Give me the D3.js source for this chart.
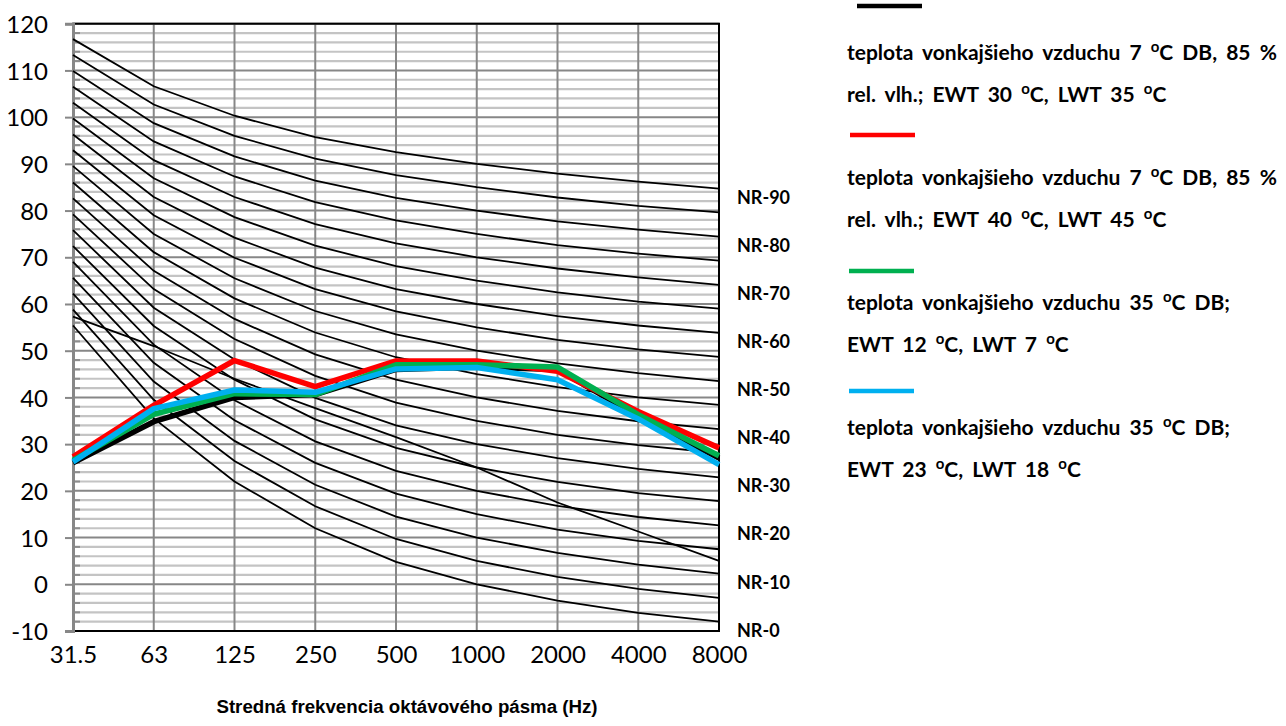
<!DOCTYPE html>
<html>
<head>
<meta charset="utf-8">
<script src="https://cdn.jsdelivr.net/npm/d3@7"></script>
<style>
  body { margin: 0; background: #fff; }
  .tick text { font-family: Lato, "Noto Sans", sans-serif; }
</style>
</head>
<body>
<div class="d3Area"></div>
<script>
// octave band centre frequencies
let bands = ["31.5", "63", "125", "250", "500", "1000", "2000", "4000", "8000"];

// NR curves, NR-0 ... NR-90 step 5
let nrLevels = [0, 5, 10, 15, 20, 25, 30, 35, 40, 45, 50, 55, 60, 65, 70, 75, 80, 85, 90];
let nrCurves = [
  [55.4, 35.5, 22.0, 12.0, 4.8, 0, -3.5, -6.1, -8.0],
  [58.8, 39.5, 26.4, 16.7, 9.7, 5, 1.6, -1.0, -2.9],
  [62.2, 43.4, 30.7, 21.3, 14.5, 10, 6.7, 4.2, 2.3],
  [65.6, 47.4, 35.1, 26.0, 19.4, 15, 11.7, 9.3, 7.5],
  [69.0, 51.3, 39.4, 30.6, 24.3, 20, 16.8, 14.4, 12.6],
  [72.4, 55.3, 43.8, 35.3, 29.2, 25, 21.9, 19.5, 17.8],
  [75.8, 59.2, 48.1, 39.9, 34.0, 30, 27.0, 24.7, 22.9],
  [79.2, 63.2, 52.5, 44.6, 38.9, 35, 32.0, 29.8, 28.1],
  [82.6, 67.1, 56.8, 49.2, 43.8, 40, 37.1, 34.9, 33.2],
  [86.0, 71.1, 61.2, 53.9, 48.6, 45, 42.2, 40.0, 38.4],
  [89.5, 75.0, 65.5, 58.5, 53.5, 50, 47.3, 45.2, 43.5],
  [92.9, 79.0, 69.9, 63.2, 58.4, 55, 52.3, 50.3, 48.7],
  [96.3, 82.9, 74.2, 67.8, 63.2, 60, 57.4, 55.4, 53.8],
  [99.7, 86.9, 78.6, 72.5, 68.1, 65, 62.5, 60.5, 59.0],
  [103.1, 90.8, 82.9, 77.1, 73.0, 70, 67.6, 65.7, 64.1],
  [106.5, 94.8, 87.3, 81.8, 77.9, 75, 72.6, 70.8, 69.3],
  [109.9, 98.7, 91.6, 86.4, 82.7, 80, 77.7, 75.9, 74.4],
  [113.3, 102.7, 96.0, 91.1, 87.6, 85, 82.8, 81.0, 79.6],
  [116.7, 106.6, 100.3, 95.7, 92.5, 90, 87.9, 86.2, 84.7]
];
// extra thin black line that crosses the NR curves
let crossLine = [57.3, 51.0, 44.0, 37.7, 31.5, 25.0, 17.5, 11.3, 5.0];

// which NR curves get a label on the right
let nrLabelLevels = [90, 80, 70, 60, 50, 40, 30, 20, 10, 0];

// measured unit spectra (dB)
let seriesBlack = [26.0, 34.8, 40.0, 40.6, 46.0, 46.5, 46.0, 36.0, 27.0];
let seriesRed = [27.3, 38.3, 47.9, 42.3, 47.8, 47.8, 45.6, 37.0, 29.2];
let seriesGreen = [26.5, 36.4, 40.8, 40.6, 47.0, 47.0, 46.5, 36.3, 27.5];
let seriesBlue = [26.2, 37.6, 41.6, 41.1, 46.1, 46.4, 43.8, 35.4, 25.6];

let seriesColors = ["#000000", "#ff0000", "#00b050", "#00b0f0"];
let seriesNames = [
  ["teplota vonkajšieho vzduchu 7 ^oC DB, 85 %", "rel. vlh.; EWT 30 ^oC, LWT 35 ^oC"],
  ["teplota vonkajšieho vzduchu 7 ^oC DB, 85 %", "rel. vlh.; EWT 40 ^oC, LWT 45 ^oC"],
  ["teplota vonkajšieho vzduchu 35 ^oC DB;", "EWT 12 ^oC, LWT 7 ^oC"],
  ["teplota vonkajšieho vzduchu 35 ^oC DB;", "EWT 23 ^oC, LWT 18 ^oC"]
];

let yTicks = d3.range(-10, 121, 10);
let yMinorTicks = d3.range(-10, 121, 2);

let outerWidth = 1286,
  outerHeight = 726;

let plot = { left: 73, right: 719, top: 23.7, bottom: 631 };

let svg = d3
  .select(".d3Area")
  .append("svg")
  .attr("width", outerWidth)
  .attr("height", outerHeight);

let x = d3.scalePoint().domain(bands).range([plot.left, plot.right]);
let y = d3.scaleLinear().domain([-10, 120]).range([plot.bottom, plot.top]);

// minor grid
svg
  .append("g")
  .selectAll("line")
  .data(yMinorTicks.filter((v) => v % 10 !== 0))
  .enter()
  .append("line")
  .attr("x1", plot.left)
  .attr("x2", plot.right)
  .attr("y1", (d) => y(d))
  .attr("y2", (d) => y(d))
  .attr("stroke", "#c4c4c4")
  .attr("stroke-width", 2.2);

// minor ticks (inside the axis)
svg
  .append("g")
  .selectAll("line")
  .data(yMinorTicks.filter((v) => v % 10 !== 0))
  .enter()
  .append("line")
  .attr("x1", plot.left)
  .attr("x2", plot.left + 7)
  .attr("y1", (d) => y(d))
  .attr("y2", (d) => y(d))
  .attr("stroke", "#8c8c8c")
  .attr("stroke-width", 2);

// major grid
svg
  .append("g")
  .selectAll("line")
  .data(yTicks)
  .enter()
  .append("line")
  .attr("x1", plot.left)
  .attr("x2", plot.right)
  .attr("y1", (d) => y(d))
  .attr("y2", (d) => y(d))
  .attr("stroke", "#878787")
  .attr("stroke-width", 2);

// vertical grid
svg
  .append("g")
  .selectAll("line")
  .data(bands)
  .enter()
  .append("line")
  .attr("x1", (d) => x(d))
  .attr("x2", (d) => x(d))
  .attr("y1", plot.top)
  .attr("y2", plot.bottom)
  .attr("stroke", "#878787")
  .attr("stroke-width", 2);

// plot border (black)
svg
  .append("rect")
  .attr("x", plot.left)
  .attr("y", plot.top)
  .attr("width", plot.right - plot.left)
  .attr("height", plot.bottom - plot.top)
  .attr("fill", "none")
  .attr("stroke", "#000")
  .attr("stroke-width", 2);

// y axis
let yAxis = svg
  .append("g")
  .attr("transform", "translate(" + plot.left + ",0)")
  .call(
    d3
      .axisLeft(y)
      .tickValues(yTicks)
      .tickFormat((d) => String(d)) // plain hyphen, like the original
      .tickSize(8)
      .tickPadding(17)
  );
yAxis.select(".domain").attr("stroke", "#878787").attr("stroke-width", 3);
yAxis.selectAll(".tick line").attr("stroke", "#878787").attr("stroke-width", 2);
yAxis
  .selectAll(".tick text")
  .attr("font-size", 24)
  .attr("fill", "#000")
  .attr("dy", "0.36em");

// x axis
let xAxis = svg
  .append("g")
  .attr("transform", "translate(0," + plot.bottom + ")")
  .call(d3.axisBottom(x).tickSize(0).tickPadding(15));
xAxis.select(".domain").remove();
xAxis.selectAll(".tick text").attr("font-size", 24).attr("fill", "#000");

let line = d3
  .line()
  .x((d, i) => x(bands[i]))
  .y((d) => y(d));

// NR curves
let g = svg.append("g");
nrCurves.forEach((c) => {
  g.append("path")
    .attr("d", line(c))
    .attr("fill", "none")
    .attr("stroke", "#000")
    .attr("stroke-width", 1.8);
});
g.append("path")
  .attr("d", line(crossLine))
  .attr("fill", "none")
  .attr("stroke", "#000")
  .attr("stroke-width", 1.8);

// NR labels
nrLabelLevels.forEach((lv) => {
  let c = nrCurves[nrLevels.indexOf(lv)];
  svg
    .append("text")
    .attr("x", plot.right + 18)
    .attr("y", y(c[c.length - 1]) + 15)
    .attr("font-family", "Lato, 'Noto Sans', sans-serif")
    .attr("font-weight", "bold")
    .attr("font-size", 18)
    .text("NR-" + lv);
});

// series
let allSeries = [seriesBlack, seriesRed, seriesGreen, seriesBlue];
allSeries.forEach((s, i) => {
  svg
    .append("path")
    .attr("d", line(s))
    .attr("fill", "none")
    .attr("stroke", seriesColors[i])
    .attr("stroke-width", 5.5)
    .attr("stroke-linejoin", "round");
});

// legend
let legendMarkY = [6, 135, 271, 391];
let legendMarkX = [857, 850, 849, 849];
let legendTextX = 847;
let legendTextY = 60;
let legendStep = 125;

allSeries.forEach((s, i) => {
  svg
    .append("line")
    .attr("x1", legendMarkX[i])
    .attr("x2", legendMarkX[i] + 65)
    .attr("y1", legendMarkY[i])
    .attr("y2", legendMarkY[i])
    .attr("stroke", seriesColors[i])
    .attr("stroke-width", 4.5);

  seriesNames[i].forEach((txt, k) => {
    let t = svg
      .append("text")
      .attr("x", legendTextX)
      .attr("y", legendTextY + i * legendStep + k * 41.5)
      .attr("font-family", "Lato, 'Noto Sans', sans-serif")
      .attr("font-weight", "bold")
      .attr("font-size", 21)
      .attr("word-spacing", 4)
      .attr("fill", "#000");
    let parts = txt.split("^o");
    parts.forEach((p, j) => {
      if (j > 0) {
        t.append("tspan").attr("dy", -8).attr("font-size", 15).text("o");
        t.append("tspan").attr("dy", 8).text(p);
      } else {
        t.append("tspan").text(p);
      }
    });
  });
});

// x axis title
svg
  .append("text")
  .attr("x", 407)
  .attr("y", 713)
  .attr("text-anchor", "middle")
  .attr("font-family", "'Liberation Sans', Arial, sans-serif")
  .attr("font-weight", "bold")
  .attr("font-size", 18.7)
  .text("Stredná frekvencia oktávového pásma (Hz)");
</script>
</body>
</html>
